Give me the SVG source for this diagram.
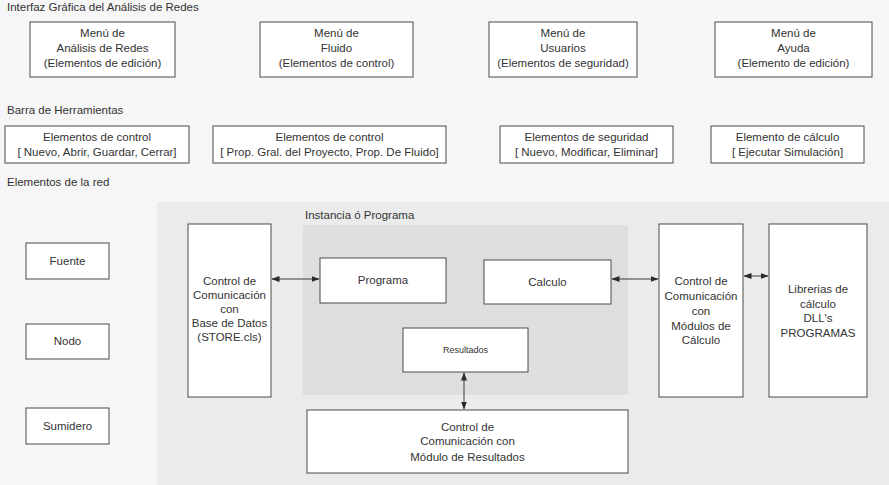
<svg xmlns="http://www.w3.org/2000/svg" width="889" height="485" viewBox="0 0 889 485">
  <style>
    .box { fill: #ffffff; stroke: #4a4a4a; stroke-width: 1; }
    .t { font-family: "Liberation Sans", Arial, sans-serif; font-size: 11.5px; fill: #333333; text-anchor: middle; }
    .lbl { font-family: "Liberation Sans", Arial, sans-serif; font-size: 11.5px; fill: #333333; }
    .small { font-size: 9px; }
    .conn { stroke: #3a3a3a; stroke-width: 1; fill: none; marker-start: url(#ah); marker-end: url(#ah); }
  </style>
  <defs>
    <marker id="ah" viewBox="0 0 8 6" refX="7.5" refY="3" markerWidth="8" markerHeight="6" markerUnits="userSpaceOnUse" orient="auto-start-reverse">
      <path d="M0,0 L8,3 L0,6 z" fill="#2a2a2a"/>
    </marker>
  </defs>

  <!-- page and shaded areas -->
  <rect x="0" y="0" width="889" height="485" fill="#f6f6f6"/>
  <rect x="157" y="202" width="732" height="283" fill="#ebebeb"/>
  <rect id="instancia" x="303" y="225" width="325" height="170" fill="#dedede"/>

  <!-- section headings -->
  <text class="lbl" x="7" y="11">Interfaz Gráfica del Análisis de Redes</text>
  <text class="lbl" x="7" y="114">Barra de Herramientas</text>
  <text class="lbl" x="7" y="186">Elementos de la red</text>
  <text class="lbl" x="305" y="219">Instancia ó Programa</text>

  <!-- menus -->
  <g id="menu-analisis">
    <rect class="box" x="30" y="22" width="145" height="55"/>
    <text class="t" x="102.5" y="37">Menú de</text>
    <text class="t" x="102.5" y="52">Análisis de Redes</text>
    <text class="t" x="102.5" y="67">(Elementos de edición)</text>
  </g>
  <g id="menu-fluido">
    <rect class="box" x="260" y="22" width="153" height="55"/>
    <text class="t" x="336.5" y="37">Menú de</text>
    <text class="t" x="336.5" y="52">Fluido</text>
    <text class="t" x="336.5" y="67">(Elementos de control)</text>
  </g>
  <g id="menu-usuarios">
    <rect class="box" x="489" y="22" width="148" height="55"/>
    <text class="t" x="563" y="37">Menú de</text>
    <text class="t" x="563" y="52">Usuarios</text>
    <text class="t" x="563" y="67">(Elementos de seguridad)</text>
  </g>
  <g id="menu-ayuda">
    <rect class="box" x="715" y="22" width="157" height="55"/>
    <text class="t" x="793.5" y="37">Menú de</text>
    <text class="t" x="793.5" y="52">Ayuda</text>
    <text class="t" x="793.5" y="67">(Elemento de edición)</text>
  </g>

  <!-- toolbar -->
  <g id="tb-archivo">
    <rect class="box" x="5" y="126" width="184" height="37"/>
    <text class="t" x="97" y="141">Elementos de control</text>
    <text class="t" x="97" y="156">[ Nuevo, Abrir, Guardar, Cerrar]</text>
  </g>
  <g id="tb-proyecto">
    <rect class="box" x="213" y="126" width="233" height="37"/>
    <text class="t" x="329.5" y="141">Elementos de control</text>
    <text class="t" x="329.5" y="156">[ Prop. Gral.  del Proyecto, Prop. De Fluido]</text>
  </g>
  <g id="tb-seguridad">
    <rect class="box" x="500" y="126" width="173" height="37"/>
    <text class="t" x="586.5" y="141">Elementos de seguridad</text>
    <text class="t" x="586.5" y="156">[ Nuevo, Modificar, Eliminar]</text>
  </g>
  <g id="tb-calculo">
    <rect class="box" x="711" y="126" width="153" height="37"/>
    <text class="t" x="787.5" y="141">Elemento de cálculo</text>
    <text class="t" x="787.5" y="156">[ Ejecutar Simulación]</text>
  </g>

  <!-- network elements -->
  <g id="fuente">
    <rect class="box" x="26" y="243" width="83" height="36"/>
    <text class="t" x="67.5" y="265">Fuente</text>
  </g>
  <g id="nodo">
    <rect class="box" x="26" y="324" width="83" height="35"/>
    <text class="t" x="67.5" y="345">Nodo</text>
  </g>
  <g id="sumidero">
    <rect class="box" x="26" y="408" width="83" height="36"/>
    <text class="t" x="67.5" y="430">Sumidero</text>
  </g>

  <!-- architecture -->
  <g id="control-bd">
    <rect class="box" x="188" y="224" width="83" height="173"/>
    <text class="t" x="229.5" y="285">Control de</text>
    <text class="t" x="229.5" y="299">Comunicación</text>
    <text class="t" x="229.5" y="313">con</text>
    <text class="t" x="229.5" y="327">Base de Datos</text>
    <text class="t" x="229.5" y="341">(STORE.cls)</text>
  </g>
  <g id="programa">
    <rect class="box" x="320" y="258" width="126" height="45"/>
    <text class="t" x="383" y="284">Programa</text>
  </g>
  <g id="calculo">
    <rect class="box" x="484" y="260" width="127" height="44"/>
    <text class="t" x="547.5" y="286">Calculo</text>
  </g>
  <g id="resultados">
    <rect class="box" x="403" y="328" width="125" height="44"/>
    <text class="t small" x="465.5" y="353">Resultados</text>
  </g>
  <g id="control-modulos">
    <rect class="box" x="659" y="224" width="84" height="173"/>
    <text class="t" x="701" y="285">Control de</text>
    <text class="t" x="701" y="300">Comunicación</text>
    <text class="t" x="701" y="315">con</text>
    <text class="t" x="701" y="330">Módulos de</text>
    <text class="t" x="701" y="344">Cálculo</text>
  </g>
  <g id="librerias">
    <rect class="box" x="769" y="224" width="98" height="173"/>
    <text class="t" x="818" y="293">Librerias de</text>
    <text class="t" x="818" y="308">cálculo</text>
    <text class="t" x="818" y="322">DLL's</text>
    <text class="t" x="818" y="337">PROGRAMAS</text>
  </g>
  <g id="control-resultados">
    <rect class="box" x="307" y="410" width="321" height="63"/>
    <text class="t" x="467.5" y="431">Control de</text>
    <text class="t" x="467.5" y="445">Comunicación con</text>
    <text class="t" x="467.5" y="461">Módulo de Resultados</text>
  </g>

  <!-- connectors -->
  <g id="connectors">
    <line class="conn" x1="272" y1="279" x2="319" y2="279"/>
    <line class="conn" x1="612" y1="279" x2="658" y2="279"/>
    <line class="conn" x1="744" y1="276" x2="768" y2="276"/>
    <line class="conn" x1="464" y1="373" x2="464" y2="409"/>
  </g>
</svg>
